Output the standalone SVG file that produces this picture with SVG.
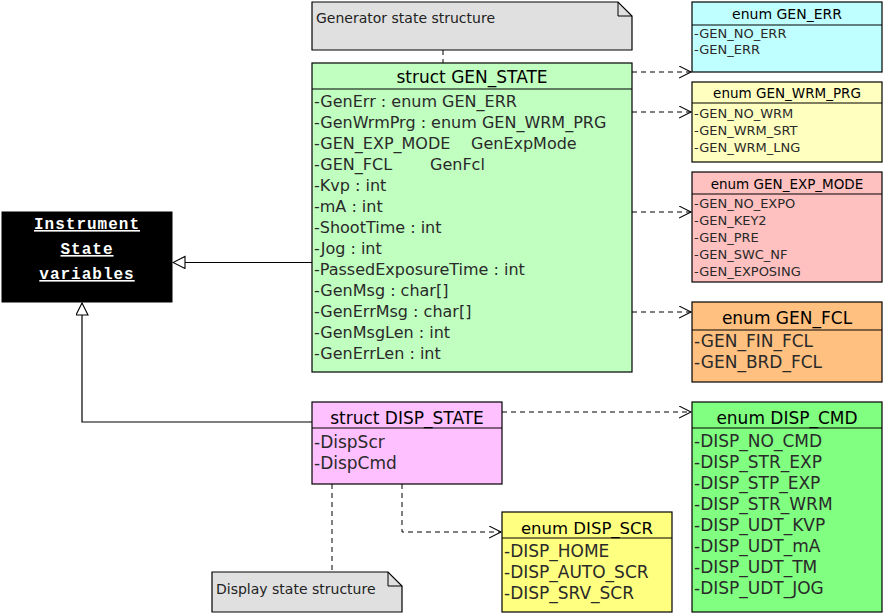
<svg xmlns="http://www.w3.org/2000/svg" width="886" height="616" viewBox="0 0 886 616">
<style>
.bx{stroke:#000;stroke-width:1.2}
.note{fill:#e0e0e0;stroke:#000;stroke-width:1.2}
.hd{font-family:"DejaVu Sans",sans-serif;text-anchor:middle;fill:#000}
.it{font-family:"DejaVu Sans",sans-serif;fill:#2a2a2a}
.sm{font-size:13px}
.lg{font-size:17px}
.md{font-size:16px}
.nt{font-family:"DejaVu Sans",sans-serif;font-size:14px;fill:#222}
.dash{fill:none;stroke:#000;stroke-width:1;stroke-dasharray:5,4}
.solid{fill:none;stroke:#000;stroke-width:1.2}
.inst{font-family:"Liberation Mono",monospace;font-weight:bold;font-size:16px;letter-spacing:1px;fill:#fff;text-anchor:middle;text-decoration:underline}
</style>
<defs>
<marker id="open" markerUnits="userSpaceOnUse" markerWidth="14" markerHeight="14" refX="12" refY="6" orient="auto" viewBox="0 0 14 14">
<path d="M0,0 L12,6 L0,12" fill="none" stroke="#000" stroke-width="1.1"/>
</marker>
<marker id="tri" markerUnits="userSpaceOnUse" markerWidth="14" markerHeight="14" refX="12.5" refY="6.5" orient="auto" viewBox="0 0 14 14">
<path d="M0.5,0.5 L12.5,6.5 L0.5,12.5 Z" fill="#fff" stroke="#000" stroke-width="1.1"/>
</marker>
</defs>

<g id="connectors">
<path class="dash" d="M632,72 H691" marker-end="url(#open)"/>
<path class="dash" d="M632,112 H691" marker-end="url(#open)"/>
<path class="dash" d="M632,212 H691" marker-end="url(#open)"/>
<path class="dash" d="M632,312 H691" marker-end="url(#open)"/>
<path class="dash" d="M502,412 H691" marker-end="url(#open)"/>
<path class="dash" d="M402,484 V532 H501" marker-end="url(#open)"/>
<path class="dash" d="M443,50 V63"/>
<path class="dash" d="M332,484 V572"/>
<path class="solid" d="M312,262.5 H173" marker-end="url(#tri)"/>
<path class="solid" d="M312,422 H82 V303" marker-end="url(#tri)"/>
</g>

<g id="instrument">
<rect x="2" y="212" width="170" height="90" fill="#000" stroke="#000"/>
<text class="inst" x="87" y="229">Instrument</text>
<text class="inst" x="87" y="254">State</text>
<text class="inst" x="87" y="279">variables</text>
</g>

<g id="note-gen">
<path class="note" d="M312,2 H618 L632,16 V50 H312 Z"/>
<path d="M618,2 V16 H632" fill="none" stroke="#000" stroke-width="1"/>
<text class="nt" x="316" y="23">Generator state structure</text>
</g>

<g id="gen-state">
<rect class="bx" x="312" y="63" width="320" height="309" fill="#c0ffc0"/>
<line class="bx" x1="312" y1="89" x2="632" y2="89"/>
<text class="hd lg" x="472" y="83">struct GEN_STATE</text>
<g class="it md">
<text x="314" y="107">-GenErr : enum GEN_ERR</text>
<text x="314" y="128">-GenWrmPrg : enum GEN_WRM_PRG</text>
<text x="314" y="149">-GEN_EXP_MODE<tspan x="471">GenExpMode</tspan></text>
<text x="314" y="170">-GEN_FCL<tspan x="430">GenFcl</tspan></text>
<text x="314" y="191">-Kvp : int</text>
<text x="314" y="212">-mA : int</text>
<text x="314" y="233">-ShootTime : int</text>
<text x="314" y="254">-Jog : int</text>
<text x="314" y="275">-PassedExposureTime : int</text>
<text x="314" y="296">-GenMsg : char[]</text>
<text x="314" y="317">-GenErrMsg : char[]</text>
<text x="314" y="338">-GenMsgLen : int</text>
<text x="314" y="359">-GenErrLen : int</text>
</g>
</g>

<g id="gen-err">
<rect class="bx" x="692" y="2" width="190" height="70" fill="#c0ffff"/>
<line class="bx" x1="692" y1="25" x2="882" y2="25"/>
<text class="hd" font-size="14" x="787" y="19">enum GEN_ERR</text>
<g class="it sm">
<text x="694" y="38">-GEN_NO_ERR</text>
<text x="694" y="54">-GEN_ERR</text>
</g>
</g>

<g id="gen-wrm-prg">
<rect class="bx" x="692" y="82" width="190" height="80" fill="#ffffc0"/>
<line class="bx" x1="692" y1="103" x2="882" y2="103"/>
<text class="hd" font-size="13.5" x="787" y="98">enum GEN_WRM_PRG</text>
<g class="it sm">
<text x="694" y="118">-GEN_NO_WRM</text>
<text x="694" y="135">-GEN_WRM_SRT</text>
<text x="694" y="152">-GEN_WRM_LNG</text>
</g>
</g>

<g id="gen-exp-mode">
<rect class="bx" x="692" y="172" width="190" height="110" fill="#ffc0c0"/>
<line class="bx" x1="692" y1="194" x2="882" y2="194"/>
<text class="hd" font-size="13.5" x="787" y="189">enum GEN_EXP_MODE</text>
<g class="it sm">
<text x="694" y="208">-GEN_NO_EXPO</text>
<text x="694" y="225">-GEN_KEY2</text>
<text x="694" y="242">-GEN_PRE</text>
<text x="694" y="259">-GEN_SWC_NF</text>
<text x="694" y="276">-GEN_EXPOSING</text>
</g>
</g>

<g id="gen-fcl">
<rect class="bx" x="692" y="302" width="190" height="80" fill="#ffc080"/>
<line class="bx" x1="692" y1="330" x2="882" y2="330"/>
<text class="hd lg" x="787" y="324">enum GEN_FCL</text>
<g class="it lg">
<text x="694" y="347">-GEN_FIN_FCL</text>
<text x="694" y="368">-GEN_BRD_FCL</text>
</g>
</g>

<g id="disp-state">
<rect class="bx" x="312" y="402" width="190" height="82" fill="#ffc0ff"/>
<line class="bx" x1="312" y1="428" x2="502" y2="428"/>
<text class="hd lg" x="407" y="424">struct DISP_STATE</text>
<g class="it lg">
<text x="314" y="448">-DispScr</text>
<text x="314" y="469">-DispCmd</text>
</g>
</g>

<g id="disp-cmd">
<rect class="bx" x="692" y="402" width="190" height="210" fill="#80ff80"/>
<line class="bx" x1="692" y1="428" x2="882" y2="428"/>
<text class="hd lg" x="787" y="424">enum DISP_CMD</text>
<g class="it lg">
<text x="694" y="447">-DISP_NO_CMD</text>
<text x="694" y="468">-DISP_STR_EXP</text>
<text x="694" y="489">-DISP_STP_EXP</text>
<text x="694" y="510">-DISP_STR_WRM</text>
<text x="694" y="531">-DISP_UDT_KVP</text>
<text x="694" y="552">-DISP_UDT_mA</text>
<text x="694" y="573">-DISP_UDT_TM</text>
<text x="694" y="594">-DISP_UDT_JOG</text>
</g>
</g>

<g id="disp-scr">
<rect class="bx" x="502" y="512" width="170" height="100" fill="#ffff80"/>
<line class="bx" x1="502" y1="538" x2="672" y2="538"/>
<text class="hd" font-size="16.5" x="587" y="534">enum DISP_SCR</text>
<g class="it lg">
<text x="504" y="557">-DISP_HOME</text>
<text x="504" y="578">-DISP_AUTO_SCR</text>
<text x="504" y="599">-DISP_SRV_SCR</text>
</g>
</g>

<g id="note-disp">
<path class="note" d="M212,572 H388 L402,586 V612 H212 Z"/>
<path d="M388,572 V586 H402" fill="none" stroke="#000" stroke-width="1"/>
<text class="nt" x="216" y="594">Display state structure</text>
</g>
</svg>
